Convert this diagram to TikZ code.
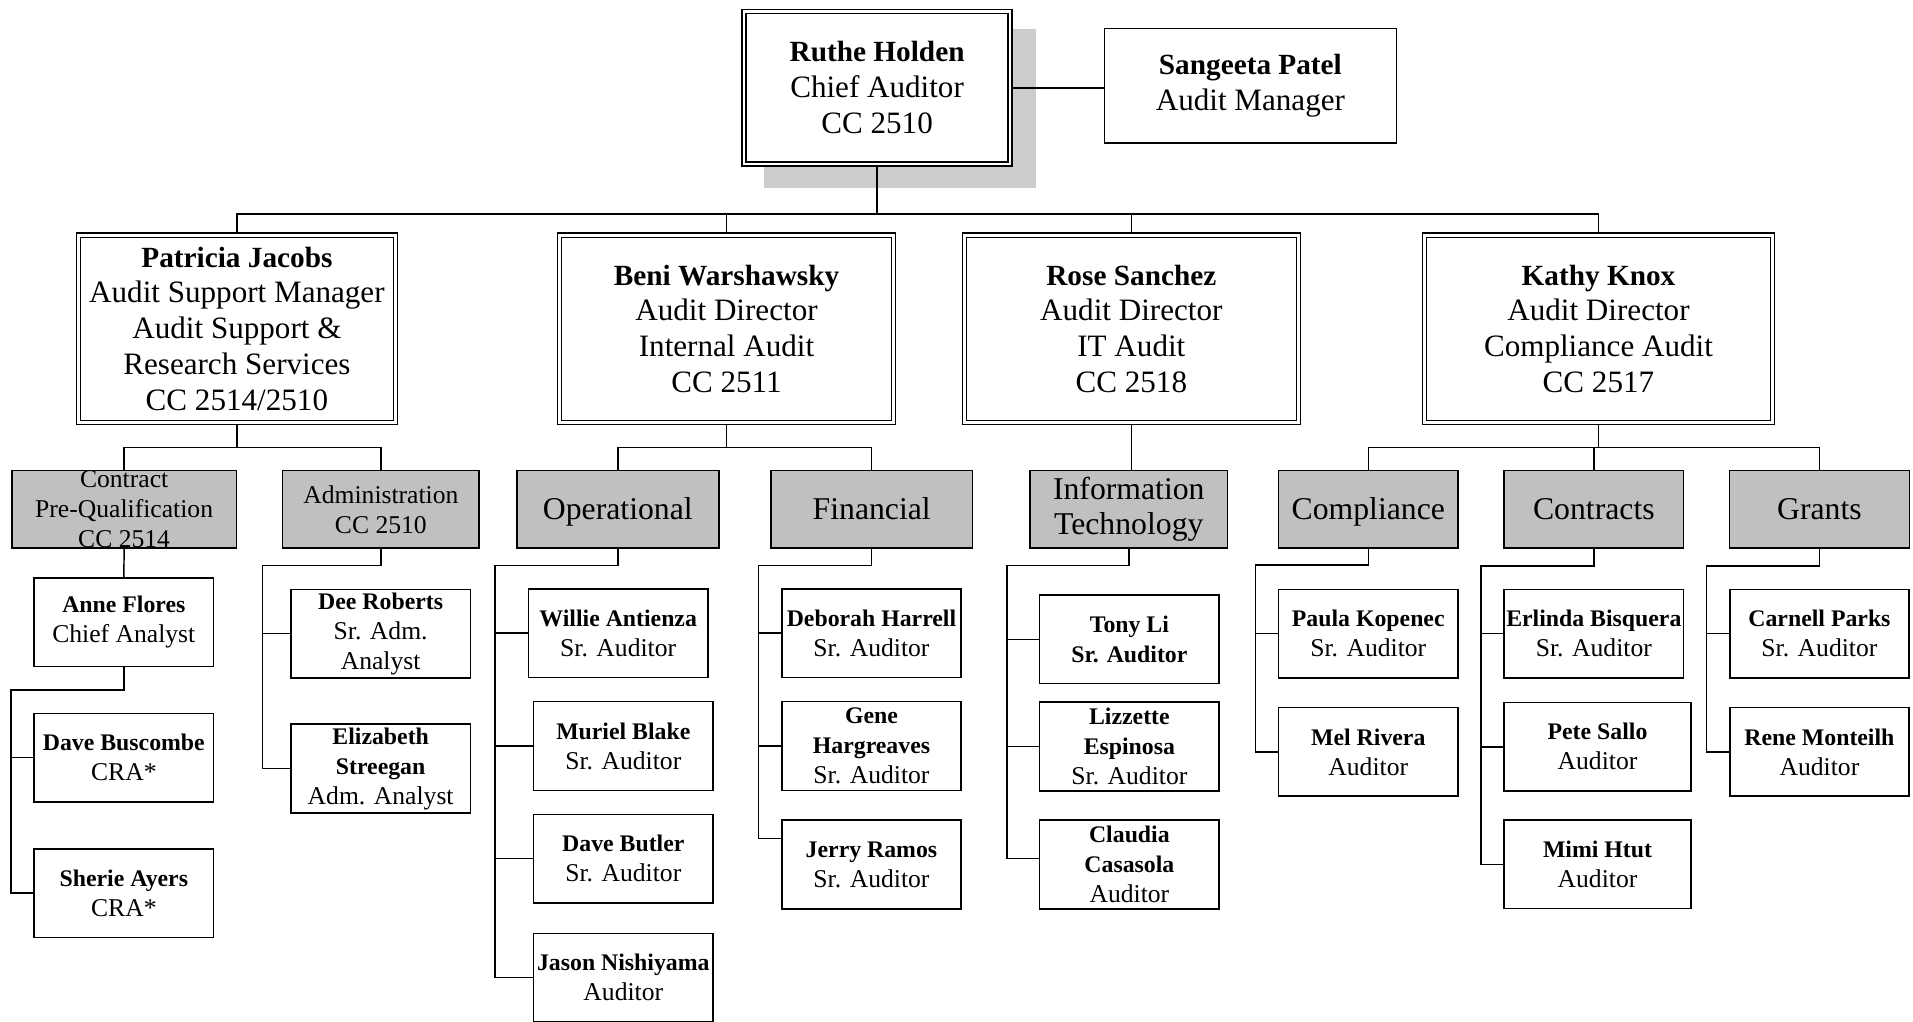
\documentclass[tikz,border=0pt]{standalone}
\usepackage{fontspec}
\setmainfont{Liberation Serif}
\definecolor{graybox}{HTML}{C0C0C0}
\definecolor{shadowgray}{HTML}{CCCCCC}
\newcommand\NameL[1]{{\fontsize{24}{29.4}\selectfont\bfseries #1}}
\newcommand\NameS[1]{{\fontsize{19.5}{24.6}\selectfont\bfseries #1}}
\tikzset{
  dbl/.style={draw, line width=1.1pt, double, double distance=2.2pt, fill=white,
    outer sep=2.2pt, inner xsep=0pt, inner ysep=-10pt, align=center,
    font=\fontsize{25.5}{29.4}\selectfont},
  sbox/.style={draw, line width=1.3pt, fill=white, inner xsep=0pt, inner ysep=-10pt, align=center,
    font=\fontsize{25.5}{29.4}\selectfont},
  gbig/.style={draw, line width=1.3pt, fill=graybox, inner xsep=0pt, inner ysep=-10pt, align=center,
    minimum height=63.7pt, font=\fontsize{26}{29.2}\selectfont},
  gone/.style={gbig, text height=20pt, text depth=4pt},
  gsmall/.style={draw, line width=1.3pt, fill=graybox, inner xsep=0pt, inner ysep=-10pt, align=center,
    minimum height=63.7pt, font=\fontsize{21}{24.6}\selectfont},
  pbox/.style={draw, line width=1.3pt, fill=white, inner xsep=0pt, inner ysep=-10pt, align=center,
    minimum width=147.1pt, minimum height=72.7pt, font=\fontsize{21}{24.6}\selectfont},
  conn/.style={line width=1.2pt},
}
\begin{document}
\begin{tikzpicture}[x=1pt, y=-1pt]
\useasboundingbox (0,0) rectangle (1568,837);

% shadow
\fill[shadowgray] (626,24) rectangle (849,154.4);

% top level
\node[dbl, minimum width=218pt, minimum height=125.1pt] (ruthe) at (718.9,72)
  {\NameL{Ruthe Holden}\\Chief Auditor\\CC 2510};
\node[sbox, minimum width=239.5pt, minimum height=94pt] (sangeeta) at (1024.9,70.4)
  {\NameL{Sangeeta Patel}\\Audit Manager};

% level 2
\node[dbl, minimum width=259.5pt, minimum height=153.5pt] (patricia) at (194.2,269.5)
  {\NameL{Patricia Jacobs}\\Audit Support Manager\\Audit Support \&\\Research Services\\CC 2514/2510};
\node[dbl, minimum width=273.4pt, minimum height=153.5pt] (beni) at (595.5,269.5)
  {\NameL{Beni Warshawsky}\\Audit Director\\Internal Audit\\CC 2511};
\node[dbl, minimum width=273.9pt, minimum height=153.5pt] (rose) at (927.3,269.5)
  {\NameL{Rose Sanchez}\\Audit Director\\IT Audit\\CC 2518};
\node[dbl, minimum width=284.9pt, minimum height=153.5pt] (kathy) at (1310.2,269.5)
  {\NameL{Kathy Knox}\\Audit Director\\Compliance Audit\\CC 2517};

% level 3
\node[gsmall, minimum width=184.2pt] (cpq) at (101.75,417.5) {Contract\\Pre-Qualification\\CC 2514};
\node[gsmall, minimum width=161.1pt] (admin) at (312.2,417.5) {Administration\\CC 2510};
\node[gone, minimum width=165.4pt] (oper) at (506.4,417.5) {Operational};
\node[gone, minimum width=165.4pt] (fin) at (714.5,417.5) {Financial};
\node[gbig, minimum width=161.8pt] (itb) at (925.2,417.5) {Information\\Technology};
\node[gone, minimum width=147pt] (compl) at (1121.5,417.5) {Compliance};
\node[gone, minimum width=147.1pt] (contr) at (1306.4,417.5) {Contracts};
\node[gone, minimum width=147.4pt] (grants) at (1491.3,417.5) {Grants};

% level 4
\node[pbox] (anne) at (101.5,510.1) {\NameS{Anne Flores}\\Chief Analyst};
\node[pbox] (daveb) at (101.5,621.1) {\NameS{Dave Buscombe}\\CRA*};
\node[pbox] (sherie) at (101.5,732) {\NameS{Sherie Ayers}\\CRA*};
\node[pbox] (dee) at (312,519.4) {\NameS{Dee Roberts}\\Sr. Adm.\\Analyst};
\node[pbox] (eliz) at (312,630) {\NameS{Elizabeth}\\\NameS{Streegan}\\Adm. Analyst};
\node[pbox] (willie) at (506.7,519) {\NameS{Willie Antienza}\\Sr. Auditor};
\node[pbox] (muriel) at (510.9,611.5) {\NameS{Muriel Blake}\\Sr. Auditor};
\node[pbox] (butler) at (510.9,703.8) {\NameS{Dave Butler}\\Sr. Auditor};
\node[pbox] (jason) at (510.9,801.4) {\NameS{Jason Nishiyama}\\Auditor};
\node[pbox] (deborah) at (714.3,519) {\NameS{Deborah Harrell}\\Sr. Auditor};
\node[pbox] (gene) at (714.3,611.5) {\NameS{Gene}\\\NameS{Hargreaves}\\Sr. Auditor};
\node[pbox] (jerry) at (714.3,708.6) {\NameS{Jerry Ramos}\\Sr. Auditor};
\node[pbox] (tony) at (925.7,524) {\NameS{Tony Li}\\\NameS{Sr. Auditor}};
\node[pbox] (lizz) at (925.7,611.8) {\NameS{Lizzette}\\\NameS{Espinosa}\\Sr. Auditor};
\node[pbox] (claudia) at (925.7,708.7) {\NameS{Claudia}\\\NameS{Casasola}\\Auditor};
\node[pbox] (paula) at (1121.5,519.4) {\NameS{Paula Kopenec}\\Sr. Auditor};
\node[pbox] (mel) at (1121.5,616.3) {\NameS{Mel Rivera}\\Auditor};
\node[pbox] (erlinda) at (1306.4,519.4) {\NameS{Erlinda Bisquera}\\Sr. Auditor};
\node[pbox, minimum width=153.1pt] (pete) at (1309.4,612.1) {\NameS{Pete Sallo}\\Auditor};
\node[pbox, minimum width=153.1pt] (mimi) at (1309.4,708.4) {\NameS{Mimi Htut}\\Auditor};
\node[pbox] (carnell) at (1491.3,519.4) {\NameS{Carnell Parks}\\Sr. Auditor};
\node[pbox] (rene) at (1491.3,616.3) {\NameS{Rene Monteilh}\\Auditor};

% connectors, top
\coordinate (bus) at (719,175.5);
\draw[conn] (ruthe.east) -- (ruthe.east -| sangeeta.west);
\draw[conn] (ruthe.south) -- (ruthe.south |- bus);
\draw[conn] (patricia.north) |- (kathy.north |- bus) -- (kathy.north);
\draw[conn] (beni.north) -- (beni.north |- bus);
\draw[conn] (rose.north) -- (rose.north |- bus);

% level 2 -> 3
\coordinate (pj) at (0,367);
\draw[conn] (patricia.south) -- (patricia.south |- pj);
\draw[conn] (cpq.north) |- (admin.north |- pj) -- (admin.north);
\coordinate (bj) at (0,366.7);
\draw[conn] (beni.south) -- (beni.south |- bj);
\draw[conn] (oper.north) |- (fin.north |- bj) -- (fin.north);
\draw[conn] (rose.south) -- (rose.south |- itb.north);
\coordinate (kj) at (0,366.7);
\draw[conn] (kathy.south) -- (kathy.south |- kj);
\draw[conn] (compl.north) |- (grants.north |- kj) -- (grants.north);
\draw[conn] (contr.north) -- (contr.north |- kj);

% level 3 -> 4
\draw[conn] (cpq.south) -- (anne.north);
\coordinate (cpqv) at (9,565.6);
\draw[conn] (anne.south) |- (cpqv) |- (sherie.west);
\draw[conn] (cpqv |- daveb.west) -- (daveb.west);

\coordinate (admv) at (215,463.7);
\draw[conn] (admin.south) |- (admv) |- (eliz.west);
\draw[conn] (admv |- dee.west) -- (dee.west);

\coordinate (opv) at (405.7,463.5);
\draw[conn] (oper.south) |- (opv) |- (jason.west);
\draw[conn] (opv |- willie.west) -- (willie.west);
\draw[conn] (opv |- muriel.west) -- (muriel.west);
\draw[conn] (opv |- butler.west) -- (butler.west);

\coordinate (finv) at (621.8,463.5);
\draw[conn] (fin.south) |- (finv) |- ([yshift=21.2pt]jerry.west);
\draw[conn] (finv |- deborah.west) -- (deborah.west);
\draw[conn] (finv |- gene.west) -- (gene.west);

\coordinate (itv) at (825.2,463.6);
\draw[conn] (itb.south) |- (itv) |- ([yshift=5pt]claudia.west);
\draw[conn] (itv |- tony.west) -- (tony.west);
\draw[conn] (itv |- lizz.west) -- (lizz.west);

\coordinate (cmv) at (1028.9,463);
\draw[conn] (compl.south) |- (cmv) |- (mel.west);
\draw[conn] (cmv |- paula.west) -- (paula.west);

\coordinate (ctv) at (1213.9,464);
\draw[conn] (contr.south) |- (ctv) |- (mimi.west);
\draw[conn] (ctv |- erlinda.west) -- (erlinda.west);
\draw[conn] (ctv |- pete.west) -- (pete.west);

\coordinate (grv) at (1398.6,464);
\draw[conn] (grants.south) |- (grv) |- (rene.west);
\draw[conn] (grv |- carnell.west) -- (carnell.west);
\end{tikzpicture}
\end{document}
